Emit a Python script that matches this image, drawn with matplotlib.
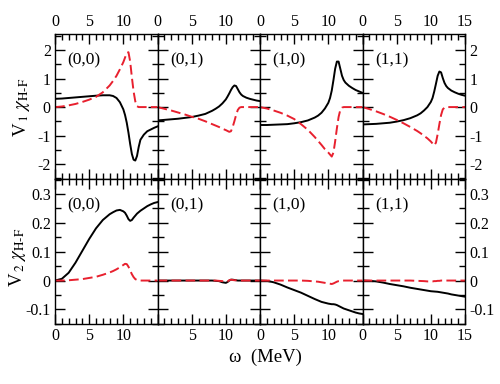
import matplotlib
matplotlib.use("Agg")
import matplotlib.pyplot as plt
from matplotlib.ticker import MultipleLocator, FixedLocator

plt.rcParams['font.family'] = ['Liberation Serif', 'DejaVu Serif']
plt.rcParams['mathtext.fontset'] = 'stix'
plt.rcParams['axes.unicode_minus'] = False

# shared energy grid (MeV)
omega = [0, 1, 2, 3, 4, 5, 6, 7, 8, 8.5, 9, 9.5, 10, 10.25, 10.5, 10.75, 11, 11.25,
         11.5, 11.75, 12, 12.25, 12.5, 13, 13.5, 14, 14.5, 15]

panel_labels = ["(0,0)", "(0,1)", "(1,0)", "(1,1)"]

# V1 chi  -- solid (black) and dashed (red)
v1_solid = {
    "(0,0)": [0.29, 0.30, 0.32, 0.34, 0.36, 0.38, 0.40, 0.415, 0.415, 0.39, 0.32, 0.17, -0.08,
              -0.28, -0.55, -0.9, -1.3, -1.65, -1.85, -1.88, -1.72, -1.4, -1.15,
              -0.97, -0.85, -0.79, -0.73, -0.68],
    "(0,1)": [-0.47, -0.45, -0.43, -0.41, -0.38, -0.35, -0.30, -0.24, -0.13, -0.06, 0.02, 0.13, 0.27,
              0.37, 0.48, 0.6, 0.7, 0.76, 0.74, 0.63, 0.52, 0.44, 0.39,
              0.33, 0.29, 0.26, 0.23, 0.21],
    "(1,0)": [-0.63, -0.63, -0.62, -0.61, -0.6, -0.57, -0.53, -0.47, -0.37, -0.3, -0.2, -0.05, 0.15,
              0.32, 0.58, 0.95, 1.35, 1.6, 1.6, 1.35, 1.1, 0.95, 0.86,
              0.75, 0.67, 0.6, 0.55, 0.5],
    "(1,1)": [-0.61, -0.6, -0.59, -0.57, -0.55, -0.51, -0.46, -0.39, -0.29, -0.22, -0.12, 0.0, 0.18,
              0.32, 0.55, 0.82, 1.1, 1.25, 1.22, 1.02, 0.85, 0.74, 0.67,
              0.58, 0.52, 0.47, 0.43, 0.4],
}
v1_dashed = {
    "(0,0)": [0, 0.02, 0.06, 0.11, 0.18, 0.26, 0.36, 0.52, 0.76, 0.92, 1.1, 1.33, 1.58,
              1.74, 1.9, 1.93, 1.6, 1.05, 0.55, 0.2, 0.03, 0, 0, 0, 0, 0, 0, 0],
    "(0,1)": [0, -0.06, -0.12, -0.19, -0.26, -0.34, -0.41, -0.5, -0.6, -0.65, -0.7, -0.76, -0.81,
              -0.84, -0.87, -0.85, -0.7, -0.5, -0.28, -0.1, -0.02, 0, 0, 0, 0, 0, 0, 0],
    "(1,0)": [0, -0.05, -0.12, -0.2, -0.3, -0.42, -0.6, -0.8, -1.05, -1.19, -1.33, -1.48, -1.6,
              -1.67, -1.74, -1.6, -1.2, -0.75, -0.35, -0.1, -0.02, 0, 0, 0, 0, 0, 0, 0],
    "(1,1)": [0, -0.07, -0.15, -0.24, -0.34, -0.45, -0.57, -0.7, -0.84, -0.92, -1.01, -1.1, -1.21,
              -1.28, -1.35, -1.25, -0.95, -0.6, -0.28, -0.08, -0.02, 0, 0, 0, 0, 0, 0, 0],
}

# V2 chi
v2_solid = {
    "(0,0)": [0, 0.006, 0.027, 0.062, 0.103, 0.144, 0.181, 0.21, 0.23, 0.237, 0.243, 0.245, 0.24,
              0.235, 0.225, 0.213, 0.207, 0.21, 0.218, 0.225, 0.232, 0.237, 0.242,
              0.25, 0.258, 0.264, 0.269, 0.272],
    "(0,1)": [0, 0, 0, 0, 0, 0, 0, 0, 0, -0.001, -0.002, -0.006, -0.008,
              -0.005, 0.0, 0.003, 0.003, 0.002, 0.001, 0, 0, 0, 0, 0, 0, 0, 0, 0],
    "(1,0)": [0, -0.001, -0.006, -0.014, -0.024, -0.033, -0.042, -0.053, -0.064, -0.069, -0.074, -0.077, -0.08,
              -0.081, -0.082, -0.082, -0.083, -0.085, -0.088, -0.091, -0.094, -0.097, -0.099,
              -0.103, -0.107, -0.111, -0.114, -0.116],
    "(1,1)": [0, -0.001, -0.003, -0.007, -0.012, -0.016, -0.02, -0.025, -0.029, -0.031, -0.033, -0.035, -0.037,
              -0.0375, -0.038, -0.0385, -0.039, -0.04, -0.041, -0.042, -0.043, -0.044, -0.045,
              -0.048, -0.05, -0.052, -0.054, -0.056],
}
v2_dashed = {
    "(0,0)": [0, 0, 0.001, 0.003, 0.005, 0.009, 0.013, 0.02, 0.028, 0.033, 0.039, 0.046, 0.054,
              0.058, 0.057, 0.048, 0.035, 0.022, 0.012, 0.005, 0.002, 0, 0, 0, 0, 0, 0, 0],
    "(0,1)": [0, 0, 0, 0, 0, 0, 0, 0, 0, 0, -0.001, -0.002, -0.004,
              -0.003, 0.001, 0.003, 0.002, 0.001, 0.001, 0, 0, 0, 0, 0, 0, 0, 0, 0],
    "(1,0)": [0, 0, 0, 0, 0, 0, 0, -0.001, -0.003, -0.004, -0.006, -0.008, -0.01,
              -0.011, -0.012, -0.01, -0.007, -0.004, -0.002, -0.001, 0, 0, 0, 0, 0, 0, 0, 0],
    "(1,1)": [0, 0, 0, 0, 0, 0, 0, 0, -0.001, -0.0015, -0.002, -0.003, -0.003,
              -0.003, -0.002, -0.002, -0.001, -0.001, 0, 0, 0, 0, 0, 0, 0, 0, 0, 0],
}

x_ticks = [0, 5, 10, 15]
top_xlabels = [["0", "5", "10", ""], ["0", "5", "10", ""], ["0", "5", "10", ""], ["0", "5", "10", "15"]]
bot_xlabels = [["0", "5", "10", ""], ["", "5", "10", ""], ["0", "5", "10", ""], ["0", "5", "10", "15"]]
v1_ticks = [-2, -1, 0, 1, 2]
v1_ticklabels = ["-2", "-1", "0", "1", "2"]
v2_ticks = [-0.1, 0, 0.1, 0.2, 0.3]
v2_ticklabels = ["-0.1", "0", "0.1", "0.2", "0.3"]

RED = "#e8202e"
FS = 11.5

fig, axes = plt.subplots(2, 4, figsize=(5, 3.84), dpi=100)
fig.subplots_adjust(left=0.11, right=0.93, top=0.9115, bottom=0.156, wspace=0, hspace=0)

for row, (solid, dashed, yt, ytl, ylim, ymin) in enumerate([
        (v1_solid, v1_dashed, v1_ticks, v1_ticklabels, (-2.53, 2.57), 0.5),
        (v2_solid, v2_dashed, v2_ticks, v2_ticklabels, (-0.151, 0.352), 0.05)]):
    for col, lab in enumerate(panel_labels):
        ax = axes[row, col]
        ax.plot(omega, solid[lab], color="black", lw=1.4)
        ax.plot(omega, dashed[lab], color=RED, lw=1.4, linestyle=(0, (5, 2.2)))
        ax.set_xlim(0, 15)
        ax.set_ylim(*ylim)
        ax.xaxis.set_major_locator(FixedLocator(x_ticks))
        ax.xaxis.set_minor_locator(MultipleLocator(1))
        ax.yaxis.set_major_locator(FixedLocator(yt))
        ax.yaxis.set_minor_locator(MultipleLocator(ymin))
        labels = top_xlabels[col] if row == 0 else bot_xlabels[col]
        ax.set_xticklabels(labels)
        ax.set_yticklabels(ytl)
        ax.tick_params(which='both', direction='in', top=True, bottom=True, left=True, right=True,
                       labeltop=(row == 0), labelbottom=(row == 1),
                       labelleft=(col == 0), labelright=(col == 3),
                       labelsize=FS, pad=3, width=1.0)
        ax.tick_params(which='major', length=7)
        ax.tick_params(which='minor', length=4)
        for s in ax.spines.values():
            s.set_linewidth(1.0)
        ax.text(0.12, 0.815, lab, transform=ax.transAxes, fontsize=12.5,
                ha='left', va='center')

fig.text(0.044, 0.72, r"V$_{\,1}$ $\chi_{\mathrm{H}\text{-}\mathrm{F}}$", rotation=90,
         ha='center', va='center', fontsize=13.5)
fig.text(0.034, 0.33, r"V$_{\,2}$ $\chi_{\mathrm{H}\text{-}\mathrm{F}}$", rotation=90,
         ha='center', va='center', fontsize=13.5)
fig.text(0.53, 0.07, "ω  (MeV)", ha='center', va='center', fontsize=13.5)

fig.savefig("out.png", dpi=100)
